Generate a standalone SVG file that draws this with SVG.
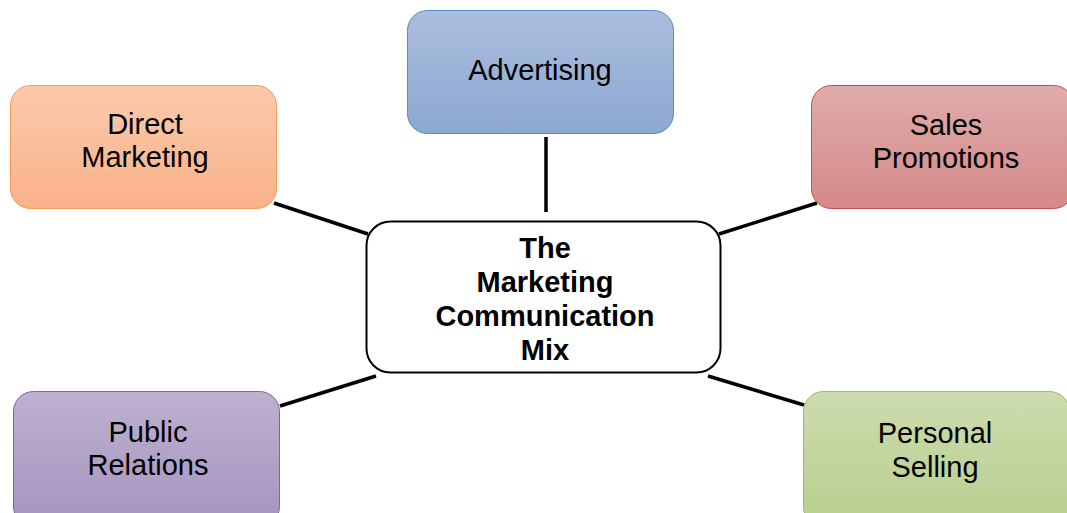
<svg xmlns="http://www.w3.org/2000/svg" width="1067" height="513" viewBox="0 0 1067 513">
<style>
text{font-family:"Liberation Sans",Arial,sans-serif;font-size:29px;fill:#000;text-anchor:middle}
.b{font-weight:bold;font-size:29px}
.conn line{stroke:#000;stroke-width:3.5}
</style>
<defs>
<linearGradient id="gb" x1="0" y1="0" x2="0" y2="1"><stop offset="0" stop-color="#AABDDC"/><stop offset="1" stop-color="#8DA8D3"/></linearGradient>
<linearGradient id="go" x1="0" y1="0" x2="0" y2="1"><stop offset="0" stop-color="#FBCAAB"/><stop offset="1" stop-color="#F9B289"/></linearGradient>
<linearGradient id="gr" x1="0" y1="0" x2="0" y2="1"><stop offset="0" stop-color="#E0ACAB"/><stop offset="1" stop-color="#D48988"/></linearGradient>
<linearGradient id="gp" x1="0" y1="0" x2="0" y2="1"><stop offset="0" stop-color="#BCB1CF"/><stop offset="1" stop-color="#A793BF"/></linearGradient>
<linearGradient id="gg" x1="0" y1="0" x2="0" y2="1"><stop offset="0" stop-color="#CDDBAE"/><stop offset="1" stop-color="#B7CF8C"/></linearGradient>
</defs>
<rect width="1067" height="513" fill="#fff"/>
<g class="conn" id="connectors">
<line x1="546" y1="137" x2="546" y2="212"/>
<line x1="274" y1="203" x2="368" y2="234"/>
<line x1="817" y1="203" x2="719" y2="234"/>
<line x1="280" y1="406" x2="376" y2="376"/>
<line x1="708" y1="376" x2="804" y2="405"/>
</g>
<g id="advertising">
<rect x="407.5" y="10.5" width="266" height="123" rx="20" fill="url(#gb)" stroke="#5B87C2" stroke-width="1"/>
<text x="540" y="80">Advertising</text>
</g>
<g id="direct-marketing">
<rect x="10.5" y="85.5" width="266" height="123" rx="20" fill="url(#go)" stroke="#F79A52" stroke-width="1"/>
<text x="145" y="134">Direct</text>
<text x="145" y="167">Marketing</text>
</g>
<g id="sales-promotions">
<rect x="811.5" y="85.5" width="262" height="123" rx="20" fill="url(#gr)" stroke="#C0504D" stroke-width="1"/>
<text x="946" y="135">Sales</text>
<text x="946" y="168">Promotions</text>
</g>
<g id="public-relations">
<rect x="13.5" y="391.5" width="266" height="135" rx="20" fill="url(#gp)" stroke="#8064A2" stroke-width="1"/>
<text x="148" y="442">Public</text>
<text x="148" y="475">Relations</text>
</g>
<g id="personal-selling">
<rect x="803.5" y="391.5" width="266" height="135" rx="20" fill="url(#gg)" stroke="#9BBB59" stroke-width="1"/>
<text x="935" y="443">Personal</text>
<text x="935" y="477">Selling</text>
</g>
<g id="center">
<rect x="366.5" y="221.5" width="354" height="151" rx="24" fill="#fff" stroke="#000" stroke-width="2"/>
<text class="b" x="545" y="258">The</text>
<text class="b" x="545" y="292">Marketing</text>
<text class="b" x="545" y="326">Communication</text>
<text class="b" x="545" y="360">Mix</text>
</g>
</svg>
